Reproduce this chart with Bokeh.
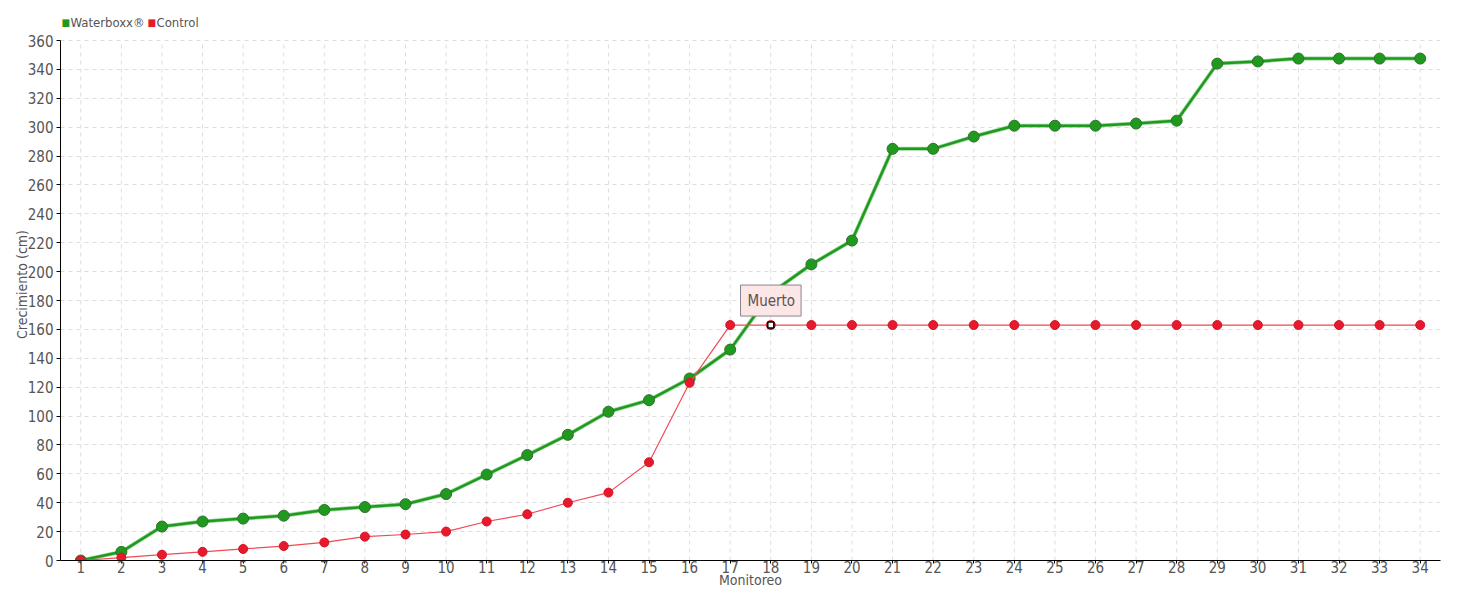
from bokeh.plotting import figure
from bokeh.models import ColumnDataSource, Label, FixedTicker
from bokeh.embed import file_html
from bokeh.resources import INLINE

monitoreo = list(range(1, 35))
waterboxx = [0, 6, 23.5, 27, 29, 31, 35, 37, 39, 46, 59.5, 73, 87, 103, 111, 126, 146, 185,
             205, 221.5, 285, 285, 293.5, 301, 301, 301, 302.5, 304.5, 344, 345.5, 347.5,
             347.5, 347.5, 347.5]
control = [0, 2, 4, 6, 8, 10, 12.5, 16.5, 18, 20, 27, 32, 40, 47, 68, 123, 163, 163,
           163, 163, 163, 163, 163, 163, 163, 163, 163, 163, 163, 163, 163, 163, 163, 163]
y_ticks = list(range(0, 361, 20))
series_names = ["Waterboxx®", "Control"]
series_colors = ["#1f9a1f", "#e8192c"]
tooltip_text = "Muerto"
tooltip_index = 17

FONT = "DejaVu Sans Condensed"
TXT = "#555555"

# layout: plot area spans 520 px for the axis (0..360); extra room above holds the legend
W, H = 1452, 596
TOP, BOTTOM = 8, 36
axis_px = 520
frame_px = H - TOP - BOTTOM
y_top = y_ticks[-1] * frame_px / axis_px

p = figure(width=W, height=H, output_backend="svg", toolbar_location=None,
           x_range=(0.5, 34.5), y_range=(0, y_top),
           min_border_left=60, min_border_right=12, min_border_top=TOP, min_border_bottom=BOTTOM)
p.outline_line_color = None
p.background_fill_color = "white"
p.xgrid.visible = False

# vertical dashed grid lines limited to the axis extent
p.segment(x0=monitoreo, y0=[y_ticks[0]] * len(monitoreo), x1=monitoreo,
          y1=[y_ticks[-1]] * len(monitoreo), line_color="#dddddd", line_dash="4 4", line_width=1)

src = ColumnDataSource(dict(x=monitoreo, w=waterboxx, c=control))

p.line("x", "w", source=src, line_color="#6cc46c", line_width=4, line_alpha=0.7)
p.line("x", "w", source=src, line_color="#1f9a1f", line_width=2.5)
p.scatter("x", "w", source=src, size=11, fill_color="#1f9a1f", line_color="#2f6f2f", line_width=1)
p.line("x", "c", source=src, line_color="#f04a55", line_width=1.2)
p.scatter("x", "c", source=src, size=9, fill_color="#e8192c", line_color="#d01525", line_width=1)

p.scatter([monitoreo[tooltip_index]], [control[tooltip_index]], marker="square", size=6,
          fill_color="white", line_color="black", line_width=1.5)

lab = Label(x=monitoreo[tooltip_index], y=control[tooltip_index], text=tooltip_text,
            x_offset=0, y_offset=9, text_align="center", text_baseline="bottom",
            text_font=FONT, text_font_size="15px", text_color="#555555",
            background_fill_color="#fde6e6", border_line_color="#888888", border_line_width=1,
            padding=[7, 6, 7, 6])
p.add_layout(lab)

p.xaxis.ticker = FixedTicker(ticks=monitoreo)
p.yaxis.ticker = FixedTicker(ticks=y_ticks)
p.yaxis.bounds = (y_ticks[0], y_ticks[-1])
for ax in (p.xaxis, p.yaxis):
    ax.axis_line_color = "black"
    ax.major_tick_line_color = "black"
    ax.minor_tick_line_color = None
    ax.major_label_text_font = FONT
    ax.major_label_text_font_size = "15px"
    ax.major_label_text_color = TXT
    ax.axis_label_text_font = FONT
    ax.axis_label_text_font_size = "14px"
    ax.axis_label_text_color = TXT
    ax.axis_label_text_font_style = "normal"
p.xaxis.major_tick_out = 3
p.xaxis.major_tick_in = 0
p.xaxis.major_label_standoff = -3
p.xaxis.axis_label = "Monitoreo"
p.xaxis.axis_label_standoff = -4
p.yaxis.major_tick_out = 4
p.yaxis.major_tick_in = 0
p.yaxis.major_label_standoff = 3
p.yaxis.axis_label = "Crecimiento (cm)"
p.yaxis.axis_label_standoff = -5
p.ygrid.ticker = FixedTicker(ticks=y_ticks)
p.ygrid.grid_line_color = "#dddddd"
p.ygrid.grid_line_dash = "4 4"
p.ygrid.grid_line_width = 1

# legend drawn as screen-positioned labels in the space above the axis
leg_y = frame_px - 14
leg_x = [1, 87]
for i, name in enumerate(series_names):
    p.add_layout(Label(x=leg_x[i], y=leg_y, x_units="screen", y_units="screen",
                       text="■", text_font=FONT, text_font_size="10px",
                       text_color=series_colors[i], text_baseline="middle", text_align="left"))
    p.add_layout(Label(x=leg_x[i] + 9, y=leg_y, x_units="screen", y_units="screen",
                       text=name, text_font=FONT, text_font_size="13px",
                       text_color=TXT, text_baseline="middle", text_align="left"))

open("out.html", "w").write(file_html(p, INLINE))
